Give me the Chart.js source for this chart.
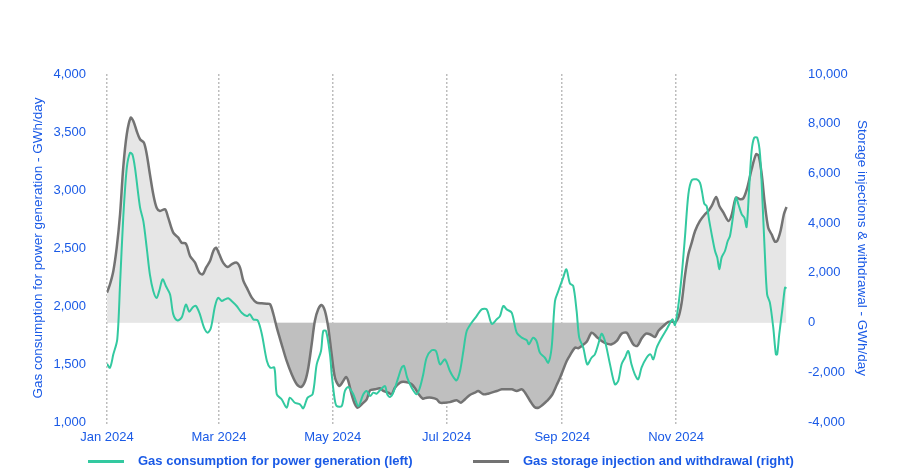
<!DOCTYPE html>
<html>
<head>
<meta charset="utf-8">
<script src="https://cdn.jsdelivr.net/npm/chart.js@4.4.1/dist/chart.umd.min.js"></script>
<style>
  html, body { margin: 0; padding: 0; background: #fff; }
  #wrap { position: relative; width: 899px; height: 469px; }
  .key { position: absolute; top: 453px; height: 18px; line-height: 18px; white-space: nowrap;
         font: bold 13px "Liberation Sans", Arial, sans-serif; color: #1a5ae6; }
  .key i { display: inline-block; width: 36px; height: 3px; margin-right: 14px; vertical-align: middle; }
</style>
</head>
<body>
<div id="wrap">
  <canvas id="chart"></canvas>
  <div class="key" style="left:88px"><i style="background:#33c9a0"></i>Gas consumption for power generation (left)</div>
  <div class="key" style="left:473px"><i style="background:#737373"></i>Gas storage injection and withdrawal (right)</div>
</div>
<script>
// day of year (0 = 1 Jan 2024) and values
const powerDays = [0, 1.6, 3.4, 5.5, 7, 8.7, 10.6, 12.3, 13.6, 15, 17.7, 19.5, 21.3, 23, 24.8, 26.6, 28, 29.8, 31.6, 33.8,
  35.5, 37.7, 40, 42.3, 44.1, 46, 47.7, 49.8, 52, 54, 55.7, 57.9, 59.6, 61.5, 63.2, 65, 66.8, 69.5, 72.2, 74.9,
  76.6, 78.4, 80.8, 83, 85.7, 87.5, 89.7, 91, 93.6, 96.3, 98, 100.7, 103.4, 105.2, 107.5, 110.2, 112.4, 114.7, 115.9, 117.4,
  119.5, 120.5, 122, 123.1, 125.8, 127.5, 129.3, 132, 134.7, 137.4, 139.2, 141, 142.7, 144.5, 146.3, 149, 150.2, 151.7, 153.4, 156.1,
  157.9, 159.2, 160.9, 163.3, 166, 167.7, 169.5, 171.3, 174, 176.3, 178.5, 181.1, 183.8, 185.6, 187.4, 189.2, 191, 192.8, 195.4, 198.1,
  200.8, 203.5, 206.2, 208.9, 210.6, 212.4, 214.2, 216.9, 219.6, 222.3, 225, 226.1, 228.4, 230.2, 232, 234.7, 236.5, 238.3, 240.1, 241.9,
  244.5, 246.2, 248.1, 249.9, 251.7, 253.1, 255.3, 257.4, 259.7, 261.5, 263.3, 265.1, 266.9, 269.6, 272.2, 274, 275.8, 277.6, 279.4, 281.1,
  282.9, 284.7, 286.5, 289.2, 291.3, 292.8, 294.6, 297.3, 300, 301.8, 303.2, 304.4, 306.2, 308, 309.8, 311.6, 313.4, 316, 317.8, 319,
  320.1, 321.4, 322.8, 324.1, 325.9, 327.1, 328.2, 329.4, 331.2, 332.7, 333.9, 335.7, 337.1, 338.4, 340.2, 341.6, 342.8, 344.2, 345.5, 346.9,
  348.5, 350, 351.4, 352.6, 353.8, 355.3, 357.1, 358.5, 359.2, 360.3, 362.1, 363.4, 364.2];
const powerGen = [1500, 1468, 1583, 1713, 2190, 2760, 3190, 3320, 3307, 3190, 2850, 2730, 2500, 2270, 2130, 2070, 2130, 2230, 2170, 2100,
  1930, 1876, 1900, 2013, 1951, 1990, 2000, 1928, 1813, 1770, 1813, 2000, 2071, 2043, 2057, 2066, 2043, 2000, 1942, 1913,
  1928, 1885, 1876, 1756, 1526, 1468, 1468, 1239, 1196, 1123, 1210, 1166, 1152, 1118, 1210, 1239, 1497, 1612, 1784, 1784,
  1583, 1400, 1200, 1138, 1138, 1267, 1302, 1239, 1138, 1239, 1267, 1224, 1253, 1244, 1273, 1310, 1239, 1216, 1253, 1382,
  1468, 1483, 1382, 1296, 1239, 1296, 1411, 1554, 1618, 1612, 1497, 1540, 1440, 1388, 1359, 1440, 1612, 1784, 1856, 1913,
  1971, 1971, 1847, 1885, 1913, 2000, 1971, 1942, 1770, 1727, 1704, 1670, 1727, 1698, 1598, 1554, 1511, 1640, 2043, 2129,
  2244, 2316, 2195, 2172, 1957, 1727, 1640, 1497, 1554, 1583, 1670, 1761, 1698, 1497, 1325, 1353, 1497, 1554, 1612, 1497,
  1411, 1368, 1468, 1554, 1583, 1540, 1640, 1727, 1799, 1856, 1885, 1836, 2000, 2260, 2600, 2963, 3084, 3092, 3063, 2977,
  2882, 2862, 2733, 2618, 2474, 2417, 2316, 2417, 2474, 2560, 2603, 2790, 2934, 2877, 2790, 2761, 2681, 3020, 3336, 3451,
  3451, 3307, 2877, 2446, 2101, 2029, 1813, 1583, 1583, 1756, 1986, 2158, 2152];

const storageDays = [0, 1.6, 3.4, 5.2, 7, 8.7, 10.6, 12.7, 14.1, 15.9, 17.7, 19.8, 21.3, 23, 24.8, 26.6, 28.4, 31.1, 32.8, 35.5,
  38.2, 40, 42.3, 44.5, 47.2, 49.5, 51.3, 53.1, 55.2, 57, 58.4, 60.2, 62.3, 64.7, 66.8, 69.5, 71.3, 73.1, 74.9, 77.6,
  80.2, 82.9, 85.6, 87.4, 89.2, 91, 93.6, 96.3, 99, 101.7, 104, 106.2, 107.9, 109.7, 111.4, 113.2, 115, 116.8, 118.6, 120.4,
  122.2, 124.5, 126.6, 128.1, 129.3, 131.1, 132.9, 134.3, 136.5, 139.2, 141, 143.7, 146.3, 148.1, 150.8, 152.6, 154.3, 157, 158.8, 161.5,
  163.3, 165.1, 166.9, 169.2, 171.3, 174, 176.7, 178.5, 181.1, 183.8, 187.4, 189.7, 191.9, 194.5, 197.2, 199, 201.7, 204.3, 208.9, 211.6,
  214.2, 217, 219.6, 222.3, 224.1, 226.8, 229.1, 231.3, 233.4, 235.8, 238.5, 241.2, 242.8, 244.6, 246.4, 248.2, 250.8, 252.6, 254.4, 257.1,
  259.8, 262.5, 265.1, 267.8, 270.5, 273.2, 275.8, 278.5, 280.3, 282.1, 284.2, 286.6, 288.9, 291, 293.7, 295.5, 298.2, 300.9, 303.2, 304.4,
  306.2, 308, 309.8, 311.6, 313.4, 315.2, 317.8, 320.5, 322.3, 324.1, 326.5, 328.2, 330.4, 333.1, 334.9, 337.1, 339.3, 341.1, 343.2, 345.5,
  347.9, 349.3, 350.9, 352.6, 354.4, 356.2, 358, 359.2, 361, 362.8, 364.2];
const storageFlow = [1203, 1541, 2076, 3013, 4357, 6232, 7575, 8243, 8110, 7708, 7374, 7237, 6771, 5966, 5161, 4622, 4490, 4558, 4220, 3617,
  3416, 3214, 3174, 2679, 2410, 2008, 1943, 2209, 2478, 2880, 3013, 2748, 2400, 2237, 2345, 2410, 2209, 1674, 1404, 1002,
  801, 776, 760, 736, 334, -205, -873, -1545, -2080, -2482, -2591, -2349, -1814, -873, 64, 535, 708, 467, -205, -1275,
  -2217, -2551, -2349, -2188, -2349, -2885, -3287, -3424, -3287, -3086, -2724, -2683, -2643, -2752, -2820, -2885, -2619, -2418, -2378, -2418,
  -2482, -2643, -2860, -3061, -3021, -3021, -3086, -3222, -3222, -3200, -3126, -3222, -3086, -2913, -2820, -2752, -2885, -2860, -2752, -2683,
  -2683, -2683, -2752, -2683, -2820, -3154, -3395, -3424, -3315, -3154, -2913, -2482, -2217, -1879, -1545, -1310, -1010, -1034, -941, -768,
  -406, -579, -740, -849, -873, -740, -447, -406, -632, -873, -941, -632, -447, -471, -579, -338, -137, 24, 36, 0,
  197, 800, 1900, 2748, 3214, 3685, 4087, 4357, 4490, 4691, 5053, 4691, 4421, 4087, 4357, 5025, 4960, 5001, 5427, 6167,
  6771, 6702, 5966, 4759, 3818, 3552, 3255, 3283, 3685, 4357, 4651];

const monthDays = [0, 60, 121, 182, 244, 305];
const monthLabels = ['Jan 2024', 'Mar 2024', 'May 2024', 'Jul 2024', 'Sep 2024', 'Nov 2024'];

const blue = '#1a5ae6';
const green = '#33c9a0';
const grey = '#737373';
const font = 'Liberation Sans, Arial, sans-serif';

function pts(days, vals) {
  return days.map((d, i) => ({ x: d, y: vals[i] }));
}

new Chart(document.getElementById('chart'), {
  type: 'line',
  data: {
    datasets: [
      {
        label: 'Gas consumption for power generation (left)',
        data: pts(powerDays, powerGen),
        yAxisID: 'y',
        borderColor: green,
        backgroundColor: green,
        borderWidth: 2,
        pointRadius: 0,
        tension: 0.3,
        fill: false
      },
      {
        label: 'Gas storage injection and withdrawal (right)',
        data: pts(storageDays, storageFlow),
        yAxisID: 'y1',
        borderColor: grey,
        backgroundColor: grey,
        borderWidth: 2.5,
        pointRadius: 0,
        tension: 0.3,
        fill: { target: { value: 0 }, above: '#e6e6e6', below: '#bfbfbf' }
      }
    ]
  },
  options: {
    responsive: true,
    maintainAspectRatio: false,
    animation: false,
    layout: { padding: { top: 74, left: 0, right: 0, bottom: 22 } },
    plugins: {
      tooltip: { enabled: false },
      legend: { display: false }   // legend is the html row under the canvas
    },
    scales: {
      x: {
        type: 'linear',
        min: 0,
        max: 365,
        afterBuildTicks: s => { s.ticks = monthDays.map(v => ({ value: v })); },
        afterFit: s => { s.height = 25; },
        ticks: {
          color: blue,
          padding: 4,
          maxRotation: 0,
          font: { family: font, size: 13 },
          callback: v => monthLabels[monthDays.indexOf(v)]
        },
        grid: { color: '#bdbdbd', lineWidth: 1.5, drawTicks: true, tickLength: 4, tickBorderDash: [2, 2] },
        border: { display: false, dash: [2, 2] }
      },
      y: {
        position: 'left',
        min: 1000,
        max: 4000,
        afterFit: s => { s.width = 107; },
        ticks: {
          stepSize: 500,
          color: blue,
          padding: 21,
          font: { family: font, size: 13 },
          callback: v => v.toLocaleString('en-US')
        },
        grid: { display: false, drawTicks: false },
        border: { display: false },
        title: {
          display: true,
          text: 'Gas consumption for power generation - GWh/day',
          color: blue,
          font: { family: font, size: 13.5 },
          padding: { top: 30, bottom: 0 }
        }
      },
      y1: {
        position: 'right',
        min: -4000,
        max: 10000,
        afterFit: s => { s.width = 111; },
        ticks: {
          stepSize: 2000,
          color: blue,
          padding: 20,
          font: { family: font, size: 13 },
          callback: v => v.toLocaleString('en-US')
        },
        grid: { display: false, drawTicks: false },
        border: { display: false },
        title: {
          display: true,
          text: 'Storage injections & withdrawal - GWh/day',
          color: blue,
          font: { family: font, size: 13.5 },
          padding: { top: 29, bottom: 0 }
        }
      }
    }
  }
});
</script>
</body>
</html>
